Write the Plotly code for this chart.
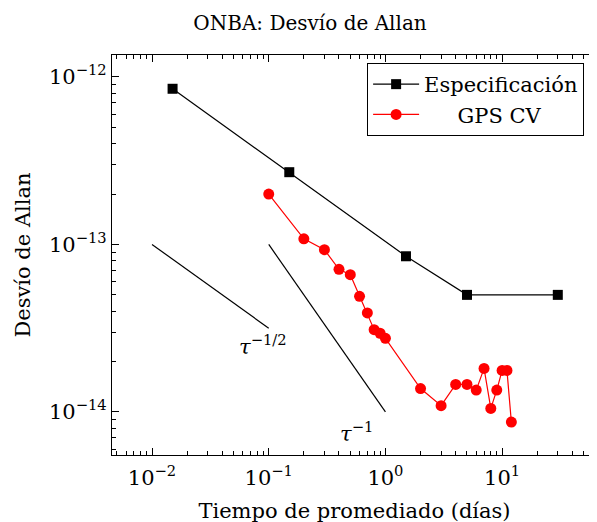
import plotly.graph_objects as go

spec_x = [0.015, 0.15, 1.5, 5, 30]
spec_y = [8.5e-13, 2.7e-13, 8.5e-14, 5e-14, 5e-14]

gps_x = [0.1, 0.2, 0.3, 0.4, 0.5, 0.6, 0.7, 0.8, 0.9, 1, 2, 3, 4, 5, 6, 7, 8, 9, 10, 11, 12]
gps_y = [2.0e-13, 1.08e-13, 9.3e-14, 7.1e-14, 6.6e-14, 4.9e-14, 3.9e-14, 3.1e-14, 2.95e-14, 2.75e-14,
         1.38e-14, 1.09e-14, 1.46e-14, 1.46e-14, 1.35e-14, 1.82e-14, 1.05e-14, 1.35e-14, 1.77e-14, 1.77e-14, 8.7e-15]

half_x = [0.01, 0.1]
half_y = [1e-13, 3.16e-14]
one_x = [0.1, 1]
one_y = [1e-13, 1e-14]

xtick_vals = [0.01, 0.1, 1, 10]
xtick_text = ["10<sup>−2</sup>", "10<sup>−1</sup>", "10<sup>0</sup>", "10<sup>1</sup>"]
ytick_vals = [1e-14, 1e-13, 1e-12]
ytick_text = ["10<sup>−14</sup>", "10<sup>−13</sup>", "10<sup>−12</sup>"]

x_minor = [m * 10.0 ** e for e in range(-3, 2) for m in range(2, 10)]
y_minor = [m * 10.0 ** e for e in range(-15, -11) for m in range(2, 10)]

FONT = "DejaVu Serif"

fig = go.Figure()
fig.add_trace(go.Scatter(x=spec_x, y=spec_y, mode="lines+markers", name="Especificación",
                         line=dict(color="black", width=1.2),
                         marker=dict(symbol="square", size=10, color="black")))
fig.add_trace(go.Scatter(x=gps_x, y=gps_y, mode="lines+markers", name="\u00a0\u00a0\u00a0\u00a0\u00a0GPS CV",
                         line=dict(color="red", width=1.2),
                         marker=dict(symbol="circle", size=11, color="red")))
fig.add_trace(go.Scatter(x=half_x, y=half_y, mode="lines", showlegend=False,
                         line=dict(color="black", width=1.2), hoverinfo="skip"))
fig.add_trace(go.Scatter(x=one_x, y=one_y, mode="lines", showlegend=False,
                         line=dict(color="black", width=1.2), hoverinfo="skip"))

fig.add_annotation(x=-1.05, y=-13.6, xref="x", yref="y", text="<i>τ</i><sup>−1/2</sup>",
                   showarrow=False, font=dict(family=FONT, size=21, color="black"))
fig.add_annotation(x=-0.25, y=-14.12, xref="x", yref="y", text="<i>τ</i><sup>−1</sup>",
                   showarrow=False, font=dict(family=FONT, size=21, color="black"))

axis_common = dict(type="log", showgrid=False, zeroline=False, showline=True, linecolor="black",
                   linewidth=1.2, mirror="ticks", ticks="inside", ticklen=7, tickcolor="black",
                   tickwidth=1, automargin=False, tickfont=dict(family=FONT, size=21, color="black"))

fig.update_xaxes(**axis_common, range=[-2.343, 1.813], tickvals=xtick_vals, ticktext=xtick_text,
                 minor=dict(tickmode="array", tickvals=x_minor, ticks="inside", ticklen=4,
                            tickcolor="black", tickwidth=0.8, showgrid=False),
                 ticklabelstandoff=4,
                 title=dict(text="Tiempo de promediado (días)", font=dict(family=FONT, size=21, color="black"),
                            standoff=14))
fig.update_yaxes(**axis_common, range=[-14.257, -11.869], tickvals=ytick_vals, ticktext=ytick_text,
                 minor=dict(tickmode="array", tickvals=y_minor, ticks="inside", ticklen=4,
                            tickcolor="black", tickwidth=0.8, showgrid=False),
                 title=dict(text="Desvío de Allan", font=dict(family=FONT, size=21, color="black"),
                            standoff=12))

fig.update_layout(
    width=597, height=522,
    margin=dict(l=104, r=8, t=47, b=75, autoexpand=False),
    paper_bgcolor="white", plot_bgcolor="white",
    title=dict(text="ONBA: Desvío de Allan", x=302 / 597, xanchor="center", y=1 - 15 / 522, yanchor="middle",
               font=dict(family=FONT, size=20, color="black")),
    legend=dict(x=0.526, y=0.98, xanchor="left", yanchor="top", bordercolor="black", borderwidth=1,
                bgcolor="white", font=dict(family=FONT, size=21, color="black"),
                itemwidth=46, tracegroupgap=0),
    showlegend=True,
)

fig.write_html("out.html")
